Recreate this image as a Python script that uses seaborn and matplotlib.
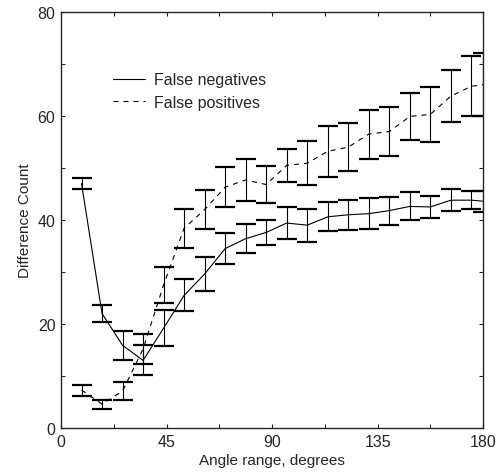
import matplotlib
matplotlib.use("Agg")
import matplotlib.pyplot as plt
import seaborn as sns
import pandas as pd
from matplotlib.ticker import MultipleLocator

# ---- data ----
angles = [8.75, 17.5, 26.25, 35.0, 43.75, 52.5, 61.25, 70.0, 78.75, 87.5,
          96.25, 105.0, 113.75, 122.5, 131.25, 140.0, 148.75, 157.5, 166.25, 175.0, 180.0]
false_neg = [47.0, 22.0, 15.9, 13.0, 19.2, 25.5, 29.6, 34.5, 36.4, 37.6,
             39.4, 39.0, 40.6, 41.0, 41.2, 41.8, 42.6, 42.5, 43.8, 43.8, 43.6]
false_neg_err = [1.0, 1.6, 2.75, 2.9, 3.5, 3.1, 3.35, 2.95, 2.8, 2.4,
                 3.05, 3.15, 2.8, 2.85, 2.95, 2.7, 2.7, 2.05, 2.15, 1.7, 2.05]
false_pos = [7.3, 4.6, 7.1, 15.2, 27.5, 38.4, 42.0, 46.3, 47.7, 46.8,
             50.5, 50.9, 53.2, 54.0, 56.5, 57.0, 59.9, 60.3, 63.8, 65.7, 66.0]
false_pos_err = [1.05, 0.85, 1.7, 2.8, 3.5, 3.7, 3.7, 3.85, 4.0, 3.55,
                 3.15, 4.2, 4.95, 4.65, 4.7, 4.7, 4.45, 5.25, 4.95, 5.8, 6.0]
series_names = ["False negatives", "False positives"]
x_ticks = [0, 45, 90, 135, 180]
y_ticks = [0, 20, 40, 60, 80]

sns.set_style("ticks")
plt.rcParams['font.family'] = ['Liberation Sans', 'DejaVu Sans']

df = pd.DataFrame({
    "angle": angles * 2,
    "count": false_neg + false_pos,
    "err": false_neg_err + false_pos_err,
    "series": [series_names[0]] * len(angles) + [series_names[1]] * len(angles),
})

fig = plt.figure(figsize=(4.96, 4.77), dpi=100)
ax = fig.add_axes([0.123, 0.1006, 0.851, 0.8724])

styles = {series_names[0]: "", series_names[1]: (4.5, 4.5)}
for name in series_names:
    sub = df[df["series"] == name]
    ax.errorbar(sub["angle"], sub["count"], yerr=sub["err"], fmt="none",
                ecolor="black", elinewidth=0.8, capsize=7.2, capthick=1.6, zorder=2)

sns.lineplot(data=df, x="angle", y="count", hue="series", style="series",
             palette=["black", "black"], dashes=styles, linewidth=0.8,
             ax=ax, zorder=3)

ax.set_xlim(0, 180)
ax.set_ylim(0, 80)
ax.set_xticks(x_ticks)
ax.set_yticks(y_ticks)
ax.xaxis.set_minor_locator(MultipleLocator(22.5))
ax.yaxis.set_minor_locator(MultipleLocator(10))
ax.tick_params(which="both", direction="in", top=True, right=True,
               length=3, width=0.8, labelsize=11.5, pad=4)
for s in ax.spines.values():
    s.set_linewidth(1.0)
ax.set_xlabel("Angle range, degrees", fontsize=11, labelpad=3)
ax.set_ylabel("Difference Count", fontsize=11, labelpad=4)

leg = ax.legend(loc="upper left", bbox_to_anchor=(0.089, 0.889), frameon=False,
                handlelength=2.0, handletextpad=0.6, labelspacing=0.45,
                prop={"size": 11.5})
for h in leg.get_lines():
    h.set_linewidth(0.8)

fig.savefig("out.png", dpi=100)
